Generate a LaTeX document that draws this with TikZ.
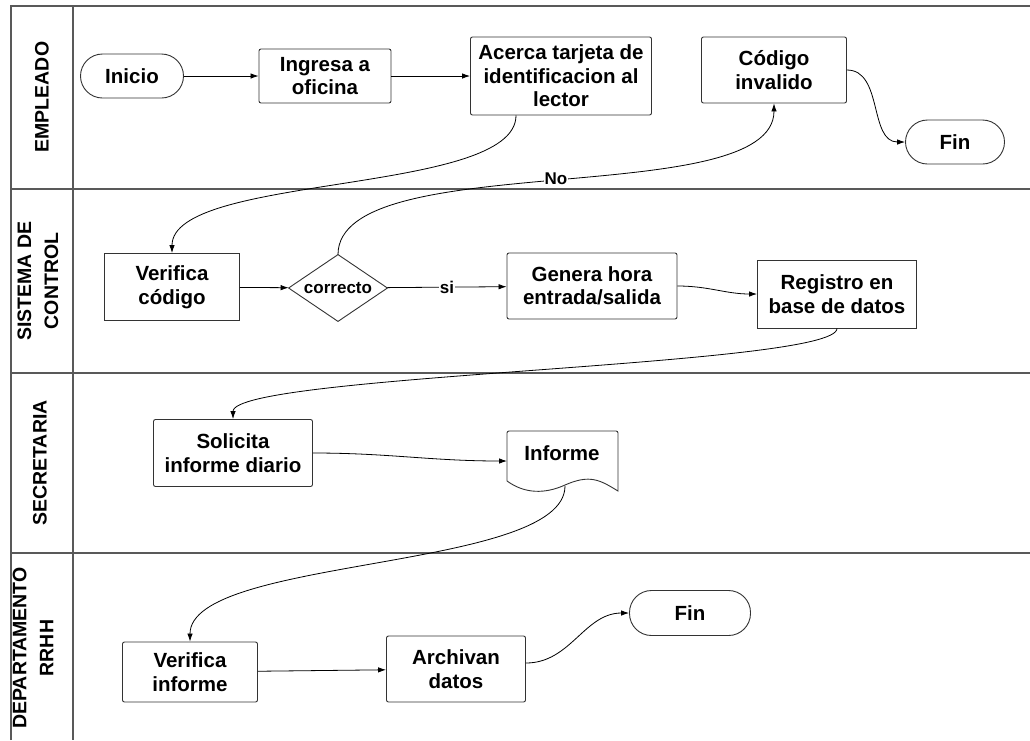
\documentclass[tikz,border=0pt]{standalone}
\usepackage{fontspec}
\setmainfont{Liberation Sans}
\usetikzlibrary{arrows.meta}

\tikzset{
  lane/.style = {line width=1.3pt, draw=black!65},
  boxline/.style = {line width=0.9pt, draw=black!80},
  box/.style = {boxline, rounded corners=2pt, align=center, inner sep=2pt,
                font=\fontsize{20.5}{23.5}\selectfont\bfseries},
  term/.style = {box, rounded corners=22pt},
  cond/.style = {align=center, inner sep=0pt, font=\fontsize{17}{17}\selectfont\bfseries},
  lanetitle/.style = {rotate=90, align=center, font=\fontsize{19.5}{27}\selectfont\bfseries},
  lbl/.style = {fill=white, inner sep=1pt, font=\fontsize{17}{17}\selectfont\bfseries}
}

\begin{document}
\begin{tikzpicture}[x=1pt, y=-1pt, >={Latex[length=8pt, width=5.5pt]}, line width=0.8pt]
            \useasboundingbox (0,0) rectangle (1030,740);

            % lanes
            \draw[lane] (11,740) -- (11,6) -- (1030,6);
            \draw[lane] (73,6) -- (73,740);
            \draw[lane] (11,189) -- (1030,189);
            \draw[lane] (11,373) -- (1030,373);
            \draw[lane] (11,553) -- (1030,553);

            \node[lanetitle] (empleado) at (42,97) {EMPLEADO};
            \node[lanetitle] (sistema) at (38,281) {SISTEMA DE\\CONTROL};
            \node[lanetitle] (secretaria) at (40,463) {SECRETARIA};
            \node[lanetitle] (rrhh) at (33,648) {DEPARTAMENTO\\RRHH};

            % empleado
            \node[term, minimum width=103, minimum height=44] (inicio) at (132,76) {Inicio};
            \node[box, minimum width=132, minimum height=54] (ingresa) at (325,76) {Ingresa a\\oficina};
            \node[box, minimum width=181, minimum height=78] (acerca) at (561,76) {Acerca tarjeta de\\identificacion al\\lector};
            \node[box, minimum width=145, minimum height=66] (invalido) at (774,70) {Código\\invalido};
            \node[term, minimum width=99, minimum height=44] (fin1) at (955,142) {Fin};

            % sistema de control
            \node[box, sharp corners, minimum width=135, minimum height=67] (verifica) at (172,287) {Verifica\\código};
            \node[cond, minimum width=98, minimum height=66] (correcto) at (338,288) {correcto};
            \draw[boxline] (correcto.north) -- (correcto.east) -- (correcto.south) -- (correcto.west) -- cycle;
            \node[box, minimum width=170, minimum height=66] (genera) at (592,286) {Genera hora\\entrada/salida};
            \node[box, sharp corners, minimum width=159, minimum height=68] (registro) at (837,294) {Registro en\\base de datos};

            % secretaria
            \node[box, minimum width=159, minimum height=67] (solicita) at (233,453) {Solicita\\informe diario};
            \draw[boxline] (507,481) [rounded corners=2pt] -- (507,431) -- (618,431) [sharp corners] -- (618,491)
              .. controls (600,480) and (590,474) .. (565,485)
              .. controls (545,494) and (525,494) .. (507,481);
            \node[box, draw=none] (informe) at (562,453) {Informe};
            \coordinate (informe in) at (507,461);
            \coordinate (informe out) at (565,486);

            % rrhh
            \node[box, minimum width=135, minimum height=60] (verinf) at (190,672) {Verifica\\informe};
            \node[box, minimum width=139, minimum height=66] (archivan) at (456,669) {Archivan\\datos};
            \node[term, minimum width=121, minimum height=45] (fin2) at (690,613) {Fin};

            % connectors
            \draw[->] (inicio) -- (ingresa);
            \draw[->] (ingresa) -- (acerca);
            \draw[->] ([xshift=-45pt]acerca.south) to[out=-90, in=90, looseness=0.55] (verifica.north);
            \draw[->] (correcto.north) to[out=90, in=-90, looseness=0.6] node[lbl] {No} (invalido.south);
            \draw[->] (invalido.east) to[out=0, in=180] (fin1.west);
            \draw[->] (verifica) -- (correcto);
            \draw[->] (correcto) -- node[lbl] {si} (genera);
            \draw[->] (genera.east) to[out=0, in=180] (registro.west);
            \draw[->] (registro.south) .. controls +(0,38) and +(0,-45) .. (solicita.north);
            \draw[->] (solicita.east) to[out=0, in=180] (informe in);
            \draw[->] (informe out) .. controls +(0,85) and +(0,-85) .. (verinf.north);
            \draw[->] (verinf) -- (archivan);
            \draw[->] ([yshift=6pt]archivan.east) to[out=0, in=180] (fin2.west);
\end{tikzpicture}
\end{document}
